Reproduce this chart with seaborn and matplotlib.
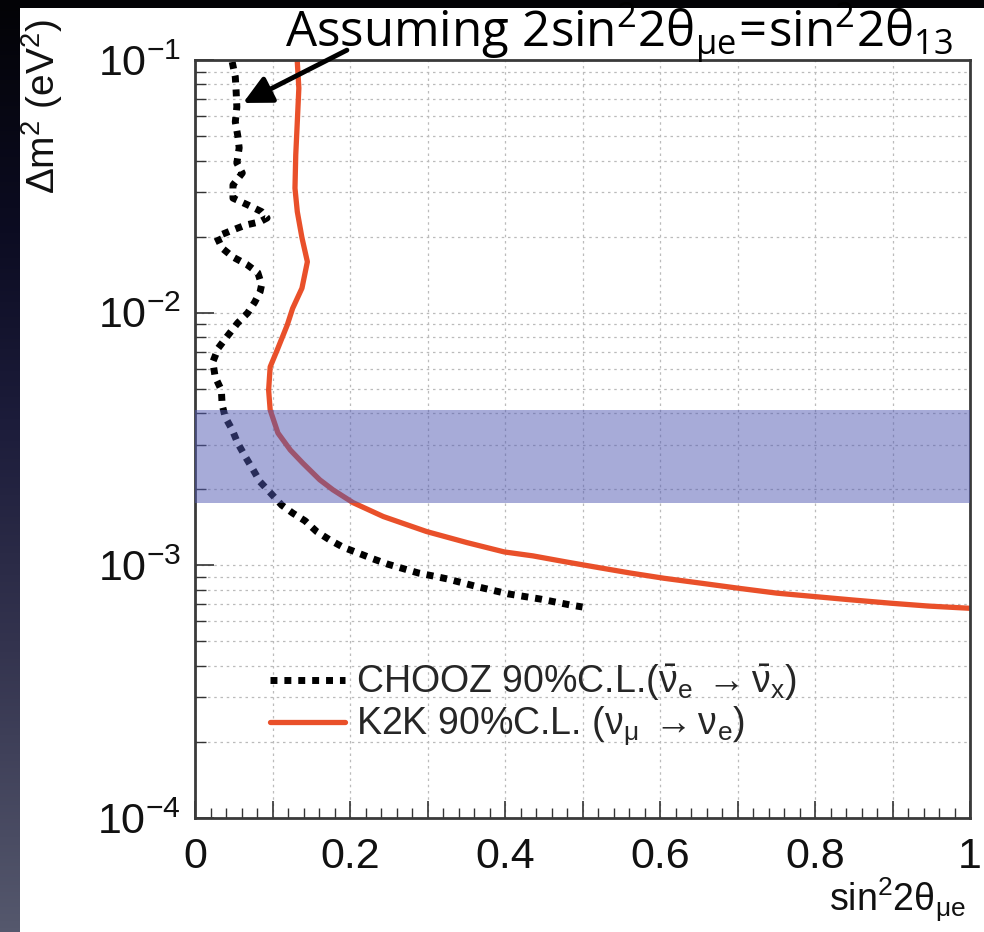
import numpy as np
import pandas as pd
import matplotlib
matplotlib.use("Agg")
import matplotlib.pyplot as plt
import seaborn as sns
from matplotlib.colors import LinearSegmentedColormap
from matplotlib.patches import Rectangle
from matplotlib.ticker import MultipleLocator, LogLocator, FuncFormatter, NullFormatter

# ---------------- data ----------------
chooz_sin2 = [0.048, 0.052, 0.053, 0.054, 0.052, 0.055, 0.057, 0.054, 0.061, 0.049,
              0.049, 0.068, 0.086, 0.093, 0.084, 0.065, 0.048, 0.028, 0.035, 0.049,
              0.067, 0.081, 0.086, 0.084, 0.077, 0.068, 0.055, 0.041, 0.030, 0.023,
              0.026, 0.034, 0.035, 0.039, 0.048, 0.055, 0.065, 0.075, 0.084, 0.097,
              0.112, 0.126, 0.142, 0.157, 0.174, 0.191, 0.210, 0.230, 0.249, 0.288,
              0.326, 0.365, 0.404, 0.445, 0.484, 0.500]
chooz_dm2 = [0.0982, 0.0857, 0.0760, 0.0652, 0.0569, 0.0505, 0.0449, 0.0391, 0.0357, 0.0320,
             0.0284, 0.0267, 0.0251, 0.0237, 0.0229, 0.0222, 0.0212, 0.0200, 0.0180, 0.0166,
             0.0155, 0.0144, 0.0129, 0.0121, 0.0110, 0.00998, 0.00910, 0.00802, 0.00724, 0.00638,
             0.00557, 0.00494, 0.00432, 0.00386, 0.00344, 0.00305, 0.00269, 0.00239, 0.00214, 0.00194,
             0.00173, 0.00161, 0.00150, 0.00136, 0.00126, 0.00118, 0.00112, 0.00106, 0.00101, 0.000933,
             0.000883, 0.000822, 0.000771, 0.000736, 0.000697, 0.000684]

k2k_sin2 = [0.132, 0.134, 0.132, 0.130, 0.129, 0.132, 0.138, 0.145, 0.138, 0.126,
            0.119, 0.106, 0.097, 0.095, 0.097, 0.107, 0.123, 0.139, 0.161, 0.178,
            0.204, 0.243, 0.299, 0.351, 0.399, 0.436, 0.480, 0.523, 0.561, 0.605,
            0.654, 0.702, 0.751, 0.800, 0.849, 0.898, 0.946, 1.000]
k2k_dm2 = [0.0982, 0.0774, 0.0569, 0.0421, 0.0311, 0.0251, 0.0198, 0.0159, 0.0125, 0.0104,
           0.00893, 0.00711, 0.00610, 0.00494, 0.00412, 0.00334, 0.00286, 0.00254, 0.00218, 0.00199,
           0.00177, 0.00156, 0.00136, 0.00123, 0.00113, 0.00109, 0.00103, 0.000977, 0.000933, 0.000889,
           0.000849, 0.000811, 0.000776, 0.000752, 0.000729, 0.000708, 0.000690, 0.000676]

band_dm2 = [0.00177, 0.00412]   # shaded Δm² range
x_limits = [0.0, 1.0]
y_limits = [1e-4, 1e-1]

chooz_label = r'CHOOZ 90%C.L.($\bar{\mathrm{\nu}}_\mathrm{e}\;\rightarrow\bar{\mathrm{\nu}}_\mathrm{x}$)'
k2k_label = r'K2K 90%C.L. ($\mathrm{\nu}_\mathrm{\mu}\;\rightarrow\mathrm{\nu}_\mathrm{e}$)'
title_text = r'$\mathsf{Assuming\ 2sin^{2}2\theta_{\mu e}\!=\!sin^{2}2\theta_{13}}$'
ylabel_text = r'$\Delta$m$^2$ (eV$^2$)'
xlabel_text = r'sin$^2$2$\mathrm{\theta}_{\mathrm{\mu e}}$'

# ---------------- style ----------------
sns.set_theme(style="white")
plt.rcParams['font.family'] = ['Liberation Sans', 'DejaVu Sans']
plt.rcParams['mathtext.fontset'] = 'custom'
plt.rcParams['mathtext.rm'] = 'Liberation Sans'
plt.rcParams['mathtext.it'] = 'Liberation Sans:italic'
plt.rcParams['mathtext.bf'] = 'Liberation Sans:bold'
plt.rcParams['mathtext.sf'] = 'Open Sans'

W, H = 984, 932
fig = plt.figure(figsize=(W / 100, H / 100), dpi=100, facecolor='black')

# background: dark gradient strip + white slide panel
bg = fig.add_axes([0, 0, 1, 1], zorder=-10)
grad = np.linspace(0, 1, 256).reshape(-1, 1)
bg_cmap = LinearSegmentedColormap.from_list(
    'bg', [(0, '#030306'), (0.25, '#0c0c22'), (0.45, '#1c1c3a'), (0.7, '#34344f'), (1, '#55586d')])
bg.imshow(grad, aspect='auto', cmap=bg_cmap, extent=[0, 1, 0, 1], origin='upper')
bg.add_patch(Rectangle((20 / W, 0), 1, 1 - 8 / H, color='white', lw=0))
bg.set_xlim(0, 1)
bg.set_ylim(0, 1)
bg.axis('off')

# main axes
ax = fig.add_axes([195 / W, 1 - 818 / H, 775 / W, 758 / H])
ax.set_facecolor('white')

df_c = pd.DataFrame({'sin2': chooz_sin2, 'dm2': chooz_dm2})
df_k = pd.DataFrame({'sin2': k2k_sin2, 'dm2': k2k_dm2})

sns.lineplot(data=df_c, x='sin2', y='dm2', sort=False, estimator=None, ax=ax,
             color='black', lw=5, linestyle=(0, (1, 1)), dash_capstyle='butt', zorder=2)
line_c = ax.lines[-1]
sns.lineplot(data=df_k, x='sin2', y='dm2', sort=False, estimator=None, ax=ax,
             color='#e9502a', lw=3.8, zorder=2)
line_k = ax.lines[-1]

ax.axhspan(band_dm2[0], band_dm2[1], color='#5058b2', alpha=0.5, lw=0, zorder=3)

ax.set_yscale('log')
ax.set_xlim(*x_limits)
ax.set_ylim(*y_limits)

# ticks
ax.xaxis.set_major_locator(MultipleLocator(0.1))
ax.xaxis.set_minor_locator(MultipleLocator(0.02))
ax.xaxis.set_major_formatter(FuncFormatter(lambda v, p: f'{v:g}' if round(v * 10) % 2 == 0 else ''))
ax.yaxis.set_major_locator(LogLocator(base=10, numticks=10))
ax.yaxis.set_minor_locator(LogLocator(base=10, subs=np.arange(2, 10), numticks=20))
ax.yaxis.set_minor_formatter(NullFormatter())

ax.tick_params(axis='both', which='both', direction='in', colors='#333333',
               labelcolor='#111111', bottom=True, left=True, top=False, right=False)
ax.tick_params(axis='x', which='major', length=12, width=1.2, labelsize=31, pad=14)
ax.tick_params(axis='x', which='minor', length=7, width=1.0)
ax.tick_params(axis='y', which='major', length=14, width=1.2, labelsize=31, pad=10)
ax.tick_params(axis='y', which='minor', length=8, width=1.0)

ax.set_axisbelow(True)
ax.grid(True, which='major', axis='x', color='#bbbbbb', ls=(0, (2, 3)), lw=0.9)
ax.grid(True, which='both', axis='y', color='#bbbbbb', ls=(0, (2, 3)), lw=0.9)

for sp in ax.spines.values():
    sp.set_visible(True)
    sp.set_color('#3a3a3a')
    sp.set_linewidth(2)

ax.set_xlabel('')
ax.set_ylabel('')

# axis titles
fig.text(42 / W, 1 - 106 / H, ylabel_text, rotation=90, fontsize=28,
         ha='center', va='center', color='#111111')
fig.text(966 / W, 1 - 911 / H, xlabel_text, fontsize=27,
         ha='right', va='baseline', color='#111111')

# legend
ax.legend(handles=[line_c, line_k], labels=[chooz_label, k2k_label],
          loc='upper left', bbox_to_anchor=(0.097, 0.205), frameon=False,
          fontsize=27, handlelength=2.0, handletextpad=0.3, labelspacing=0.05,
          borderpad=0, borderaxespad=0)

# annotation title + arrow
fig.text(619 / W, 1 - 46 / H, title_text, fontsize=35.5, ha='center', va='baseline', color='black')
ax.annotate('', xy=(0.062, 0.0676), xycoords='data',
            xytext=(0.196, 1.013), textcoords='axes fraction',
            arrowprops=dict(arrowstyle='-|>,head_length=0.9,head_width=0.45', color='black',
                            lw=3.5, mutation_scale=19, shrinkA=0, shrinkB=0),
            annotation_clip=False, zorder=6)

fig.savefig('out.png', dpi=100, facecolor=fig.get_facecolor())
